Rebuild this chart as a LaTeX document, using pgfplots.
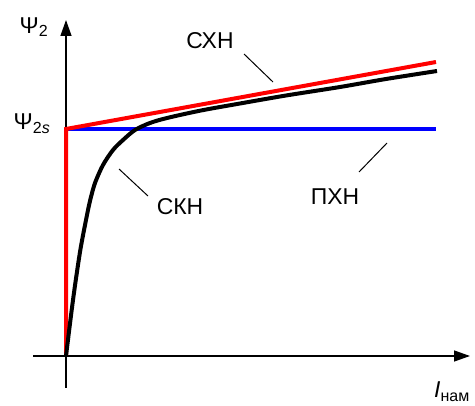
\documentclass[border=0pt]{standalone}
\usepackage{fontspec}
\setmainfont{Liberation Sans}
\usepackage{pgfplots}
\pgfplotsset{compat=1.18}
\usetikzlibrary{arrows.meta}
\newcommand{\lbl}{\fontsize{23}{27}\selectfont}
\begin{document}
\begin{tikzpicture}
\begin{axis}[
  width=475bp, height=400bp, scale only axis,
  xmin=-66, xmax=409, ymin=-44, ymax=356,
  hide axis, clip=false,
]
% frame extent (invisible)
\addplot[draw=none] coordinates {(-66,-44) (409,356)};
% axes
\addplot[black, line width=1.3bp, -{Triangle[length=16bp,width=11bp]}] coordinates {(-33,0) (404,0)};
\addplot[black, line width=1.3bp, -{Triangle[length=16bp,width=11bp]}] coordinates {(0,-32) (0,336)};
% PXH
\addplot[blue, line width=4bp] coordinates {(0,227) (370,227)};
% CXH
\addplot[red, line width=4bp, line join=miter] coordinates {(0,0) (0,227) (370,294)};
% CKH
\addplot[black, line width=4bp, smooth, tension=0.5] coordinates {
 (0,0) (7,56) (14,104) (20,136) (24,155) (29,173) (37,191) (47,206)
 (57,216) (69,226) (84,233) (101,238) (135,245.5) (174,252.5) (220,260.5)
 (274,269) (320,277) (371,285)};
% leaders
\addplot[black, line width=1bp] coordinates {(178,302) (207,274)};
\addplot[black, line width=1bp] coordinates {(293,184) (321,213)};
\addplot[black, line width=1bp] coordinates {(53,187) (82,160)};
% labels
\node[font=\lbl] at (axis cs:144,315) {СХН};
\node[font=\lbl] at (axis cs:269,159) {ПХН};
\node[font=\lbl] at (axis cs:114,149) {СКН};
\node[font=\lbl] at (axis cs:-32,329) {Ψ\textsubscript{2}};
\node[font=\lbl] at (axis cs:-34,232) {Ψ\textsubscript{2\textit{s}}};
\node[font=\lbl] at (axis cs:386,-36) {\textit{I}\textsubscript{нам}};
\end{axis}
\end{tikzpicture}
\end{document}
